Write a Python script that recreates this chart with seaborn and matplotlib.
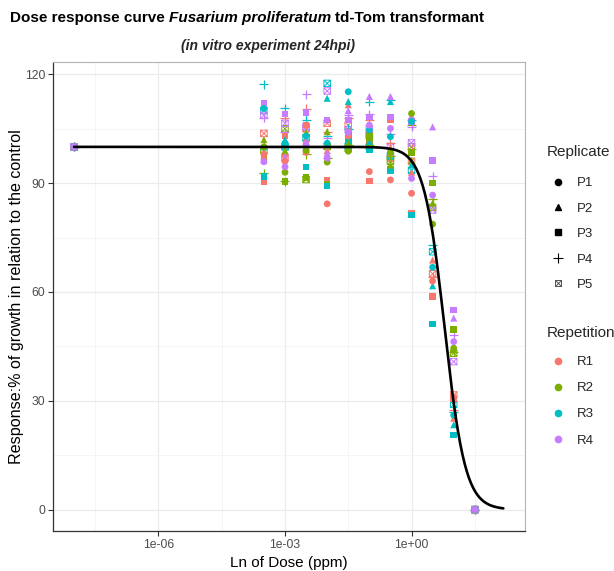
import numpy as np
import pandas as pd
import matplotlib
matplotlib.use('Agg')
import matplotlib.pyplot as plt
from matplotlib.lines import Line2D
from matplotlib.path import Path
from matplotlib.ticker import FixedLocator, NullFormatter
import seaborn as sns

# dose (ppm); first entry is the control
DOSE = [1e-8, 3.16e-4, 1e-3, 3.16e-3, 1e-2, 3.16e-2, 0.1, 0.316, 1.0, 3.16, 10.0, 31.6]
REPLICATES = ['P1', 'P2', 'P3', 'P4', 'P5']
REPETITIONS = ['R1', 'R2', 'R3', 'R4']

# % growth relative to control, rows = P1..P5, columns = DOSE
R1 = [[100, 98.0, 96.0, 98.5, 84.3, 103.0, 93.2, 90.9, 87.2, 63.0, 31.0, 0],
      [100, 97.5, 98.0, 102.0, 99.0, 111.6, 102.0, 99.0, 93.0, 68.8, 25.2, 0],
      [100, 90.4, 103.0, 106.0, 90.9, 104.0, 90.6, 107.4, 81.7, 58.7, 30.5, 0],
      [100, 100.0, 108.0, 110.5, 104.0, 108.0, 107.4, 101.0, 99.5, 64.2, 27.5, 0],
      [100, 103.7, 97.0, 105.0, 106.5, 106.0, 103.5, 96.9, 96.0, 65.0, 31.6, 0]]
R2 = [[100, 100.0, 93.0, 99.0, 95.8, 98.8, 102.5, 98.5, 109.2, 78.7, 44.5, 0],
      [100, 102.0, 99.0, 104.0, 104.2, 101.0, 104.0, 95.0, 96.3, 84.5, 44.0, 0],
      [100, 97.0, 90.5, 91.5, 89.6, 103.3, 101.0, 93.7, 98.4, 90.1, 49.7, 0],
      [100, 92.7, 90.5, 98.0, 97.0, 100.5, 100.5, 97.5, 106.0, 85.5, 43.5, 0],
      [100, 99.0, 105.0, 91.0, 100.1, 99.5, 103.0, 96.0, 100.0, 83.3, 43.1, 0]]
R3 = [[100, 110.6, 101.0, 103.0, 101.0, 115.2, 104.7, 102.8, 107.0, 66.8, 26.0, 0],
      [100, 100.0, 102.0, 100.0, 113.4, 112.5, 101.5, 112.5, 95.0, 61.7, 23.4, 0],
      [100, 91.9, 100.5, 94.5, 89.2, 101.9, 99.2, 93.5, 81.2, 51.2, 20.6, 0],
      [100, 117.3, 110.7, 107.5, 103.0, 105.0, 112.5, 113.0, 107.5, 72.9, 27.0, 0],
      [100, 110.0, 100.0, 102.5, 117.5, 100.1, 100.0, 97.5, 93.5, 71.1, 29.0, 0]]
R4 = [[100, 95.9, 94.5, 100.5, 96.9, 104.0, 106.0, 105.1, 91.3, 86.7, 46.3, 0],
      [100, 96.3, 97.2, 101.5, 98.3, 110.0, 113.9, 113.9, 108.5, 105.5, 52.8, 0],
      [100, 112.1, 109.0, 109.5, 107.4, 107.4, 108.3, 108.3, 107.0, 96.3, 55.0, 0],
      [100, 108.0, 104.0, 114.5, 102.4, 108.8, 109.0, 103.5, 105.5, 91.9, 48.2, 0],
      [100, 108.7, 106.5, 105.5, 115.4, 104.7, 105.0, 100.1, 101.1, 82.6, 40.8, 0]]

# fitted log-logistic model (drc LL.4 style)
FIT_SLOPE = 1.77
FIT_EC50 = 6.1
FIT_TOP = 100.0
FIT_BOTTOM = 0.0
CURVE_MAX_DOSE = 150.0

PALETTE = {'R1': '#F8766D', 'R2': '#7CAE00', 'R3': '#00BFC4', 'R4': '#C77CFF'}

rows = []
for rep, block in zip(REPETITIONS, [R1, R2, R3, R4]):
    for pl, vals in zip(REPLICATES, block):
        for d, v in zip(DOSE, vals):
            rows.append({'Dose': d, 'Response': v, 'Replicate': pl, 'Repetition': rep})
df = pd.DataFrame(rows)

cx = np.logspace(np.log10(DOSE[0]), np.log10(CURVE_MAX_DOSE), 400)
curve = pd.DataFrame({'Dose': cx,
                      'Response': FIT_BOTTOM + (FIT_TOP - FIT_BOTTOM) / (1 + (cx / FIT_EC50) ** FIT_SLOPE)})

# square with a cross (ggplot shape 7)
boxx = Path([(-1, -1), (1, -1), (1, 1), (-1, 1), (-1, -1), (-1, -1), (1, 1), (-1, 1), (1, -1)],
            [Path.MOVETO, Path.LINETO, Path.LINETO, Path.LINETO, Path.LINETO,
             Path.MOVETO, Path.LINETO, Path.MOVETO, Path.LINETO])

sns.set_theme(style='white')
plt.rcParams['font.family'] = ['Liberation Sans', 'DejaVu Sans']

fig = plt.figure(figsize=(6.14, 5.71), dpi=100)
ax = fig.add_axes([53 / 614, 1 - 531 / 571, (525 - 53) / 614, (531 - 62) / 571])

markers = {'P1': 'o', 'P2': '^', 'P3': 's', 'P4': '+'}
sizes = {'P1': 24, 'P2': 26, 'P3': 22, 'P4': 42}
for pl in ['P5', 'P4', 'P3', 'P2', 'P1']:
    sub = df[df['Replicate'] == pl]
    if pl == 'P5':
        for rep in REPETITIONS:
            s = sub[sub['Repetition'] == rep]
            ax.scatter(s['Dose'], s['Response'], marker=boxx, s=22, facecolors='none',
                       edgecolors=PALETTE[rep], linewidths=0.7, zorder=3)
    else:
        kw = {'linewidth': 0.9} if pl == 'P4' else {'linewidth': 0, 'edgecolor': 'none'}
        sns.scatterplot(data=sub, x='Dose', y='Response', hue='Repetition',
                        hue_order=REPETITIONS, palette=PALETTE, marker=markers[pl],
                        s=sizes[pl], legend=False, ax=ax, zorder=3, **kw)

sns.lineplot(data=curve, x='Dose', y='Response', color='black', linewidth=1.9, ax=ax, zorder=4)

ax.set_xscale('log')
ax.set_xlim(10 ** -8.5, 10 ** 2.69)
ax.set_ylim(-5.9, 123.4)
ax.set_xticks([1e-6, 1e-3, 1e0])
ax.set_xticklabels(['1e-06', '1e-03', '1e+00'])
ax.xaxis.set_minor_locator(FixedLocator([10 ** -7.5, 10 ** -4.5, 10 ** -1.5, 10 ** 1.5]))
ax.xaxis.set_minor_formatter(NullFormatter())
ax.set_yticks([0, 30, 60, 90, 120])
ax.yaxis.set_minor_locator(FixedLocator([15, 45, 75, 105]))

ax.grid(which='major', color='#EBEBEB', linewidth=0.9, zorder=0)
ax.grid(which='minor', color='#F2F2F2', linewidth=0.5, zorder=0)
ax.set_axisbelow(True)
ax.tick_params(which='major', length=3.5, width=0.8, color='#333333', labelsize=8.8,
               labelcolor='#4D4D4D', pad=2, bottom=True, left=True)
ax.tick_params(which='minor', length=0)
for side in ['left', 'bottom']:
    ax.spines[side].set_color('#333333')
    ax.spines[side].set_linewidth(0.9)
for side in ['top', 'right']:
    ax.spines[side].set_color('#B3B3B3')
    ax.spines[side].set_linewidth(0.8)

ax.set_xlabel('Ln of Dose (ppm)', fontsize=11, color='black', labelpad=4)
ax.set_ylabel('Response:% of growth in relation to the control', fontsize=11.6,
              color='black', labelpad=1)

# legends (titles drawn separately to control spacing)
rep_handles = [Line2D([], [], linestyle='', marker='o', color='black', markersize=4.5),
               Line2D([], [], linestyle='', marker='^', color='black', markersize=5),
               Line2D([], [], linestyle='', marker='s', color='black', markersize=4.3),
               Line2D([], [], linestyle='', marker='+', color='black', markersize=6.5, markeredgewidth=0.8),
               Line2D([], [], linestyle='', marker=boxx, markerfacecolor='none',
                      markeredgecolor='#555555', markersize=4.3, markeredgewidth=0.7)]
fig.text(547 / 614, 1 - 152 / 571, 'Replicate', fontsize=11, ha='left', va='center')
leg1 = ax.legend(rep_handles, REPLICATES, loc='upper left',
                 bbox_to_anchor=(547 / 614, 1 - 177 / 571), bbox_transform=fig.transFigure,
                 frameon=False, fontsize=9.5, handlelength=1.6, handletextpad=0.7,
                 labelspacing=1.0, borderpad=0, borderaxespad=0)
ax.add_artist(leg1)
col_handles = [Line2D([], [], linestyle='', marker='o', color=PALETTE[r], markersize=4.5)
               for r in REPETITIONS]
fig.text(547 / 614, 1 - 333 / 571, 'Repetition', fontsize=11, ha='left', va='center')
ax.legend(col_handles, REPETITIONS, loc='upper left',
          bbox_to_anchor=(547 / 614, 1 - 356 / 571), bbox_transform=fig.transFigure,
          frameon=False, fontsize=9.5, handlelength=1.6, handletextpad=0.7,
          labelspacing=1.05, borderpad=0, borderaxespad=0)


def rich_line(pieces, xc, y, size):
    renderer = fig.canvas.get_renderer()
    texts, widths = [], []
    for s, style in pieces:
        t = fig.text(0, y, s, fontsize=size, fontweight='bold', fontstyle=style,
                     va='center', ha='left', color='black')
        bb = t.get_window_extent(renderer)
        texts.append(t)
        widths.append(bb.width / fig.bbox.width)
    gap = 0.278 * size * fig.dpi / 72 / fig.bbox.width
    total = sum(widths) + gap * (len(pieces) - 1)
    x = xc - total / 2
    for t, w in zip(texts, widths):
        t.set_x(x)
        x += w + gap


rich_line([('Dose response curve', 'normal'), ('Fusarium proliferatum', 'italic'),
           ('td-Tom transformant', 'normal')], 247 / 614, 1 - 18 / 571, 11.0)
fig.text(268 / 614, 1 - 46 / 571, '(in vitro experiment 24hpi)', fontsize=10,
         fontweight='bold', fontstyle='italic', ha='center', va='center')

fig.savefig('out.png', dpi=100)
